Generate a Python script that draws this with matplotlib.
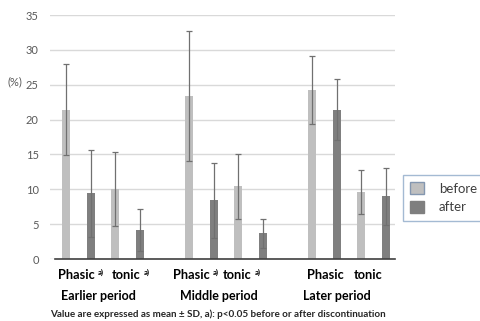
import matplotlib
matplotlib.use("Agg")
import matplotlib.pyplot as plt
from matplotlib.patches import Patch
import numpy as np

plt.rcParams['font.family'] = ['Lato', 'DejaVu Sans']

periods = ["Earlier period", "Middle period", "Later period"]
measures = ["Phasic", "tonic"]
significant = [True, True, False]
before_mean = [21.4, 10.0, 23.4, 10.4, 24.2, 9.6]
before_sd = [6.5, 5.3, 9.3, 4.7, 4.9, 3.1]
after_mean = [9.4, 4.2, 8.4, 3.7, 21.4, 9.0]
after_sd = [6.3, 3.0, 5.4, 2.1, 4.4, 4.1]
yticks = [0, 5, 10, 15, 20, 25, 30, 35]

c_before = '#bfbfbf'
c_after = '#7f7f7f'
c_err = '#707070'
c_text = '#595959'

fig = plt.figure(figsize=(4.8, 3.21), dpi=100)
ax = fig.add_axes([50/480, 1-259/321, 345/480, (259-15)/321])

pos_before = []
pos_after = []
for g in range(len(periods)):
    for m in range(len(measures)):
        base = 5*g + 2*m
        pos_before.append(base)
        pos_after.append(base + 1)

w = 0.33
ekw = dict(ecolor=c_err, elinewidth=0.9, capsize=2.5, capthick=0.9)
ax.bar(pos_before, before_mean, w, color=c_before, yerr=before_sd, error_kw=ekw, zorder=2)
ax.bar(pos_after, after_mean, w, color=c_after, yerr=after_sd, error_kw=ekw, zorder=2)

ax.set_xlim(-0.65, 13.37)
ax.set_ylim(0, 35)
ax.set_yticks(yticks)
ax.set_yticklabels([str(t) for t in yticks], color=c_text, fontsize=8)
ax.set_xticks([])
ax.tick_params(axis='y', length=0, pad=8)
ax.yaxis.grid(True, color='#d9d9d9', linewidth=1, zorder=0)
ax.set_axisbelow(True)
for s in ['top', 'right', 'left']:
    ax.spines[s].set_visible(False)
ax.spines['bottom'].set_color('#404040')
ax.spines['bottom'].set_linewidth(1.2)
ax.spines['bottom'].set_bounds(-0.45, 13.37)

fig.text(7/480, 1-82/321, "(%)", color=c_text, fontsize=8, va='center', ha='left')

trans = ax.get_xaxis_transform()
lab_y = -0.065
per_y = -0.15
# label left offsets (data units) relative to each group's start
meas_off = [[-0.33, 1.87], [-0.65, 1.38], [-0.2, 1.71]]
per_off = [-0.2, -0.37, -0.37]
for g, per in enumerate(periods):
    b = 5*g
    for m, meas in enumerate(measures):
        t = ax.text(b + meas_off[g][m], lab_y, meas, transform=trans, ha='left', va='center',
                    fontsize=9.2, fontweight='bold', color='black')
        if significant[g]:
            ax.annotate("a)", xy=(1, 1), xycoords=t, xytext=(2.2, 0), textcoords='offset points',
                        ha='left', va='top', fontsize=5.5, fontweight='bold', color='black')
    ax.text(b + per_off[g], per_y, per, transform=trans, ha='left', va='center',
            fontsize=9, fontweight='bold', color='black')

fig.text(50/480, 1-314/321,
         "Value are expressed as mean \u00b1 SD, a): p<0.05 before or after discontinuation",
         fontsize=7.1, fontweight='bold', color='#262626', ha='left', va='center')

handles = [Patch(facecolor=c_before, edgecolor='#8497b0', linewidth=1, label='before'),
           Patch(facecolor=c_after, edgecolor=c_after, label='after')]
leg = fig.legend(handles=handles, loc='upper left', bbox_to_anchor=(403/480, 1-175/321),
                 frameon=True, fancybox=False, fontsize=9.5, handlelength=1.05, handleheight=1.05,
                 handletextpad=1.1, borderpad=0.55, labelspacing=0.45, labelcolor='#404040',
                 borderaxespad=0)
leg.get_frame().set_edgecolor('#8ea9c8')
leg.get_frame().set_linewidth(1)

fig.savefig("out.png", dpi=100)
